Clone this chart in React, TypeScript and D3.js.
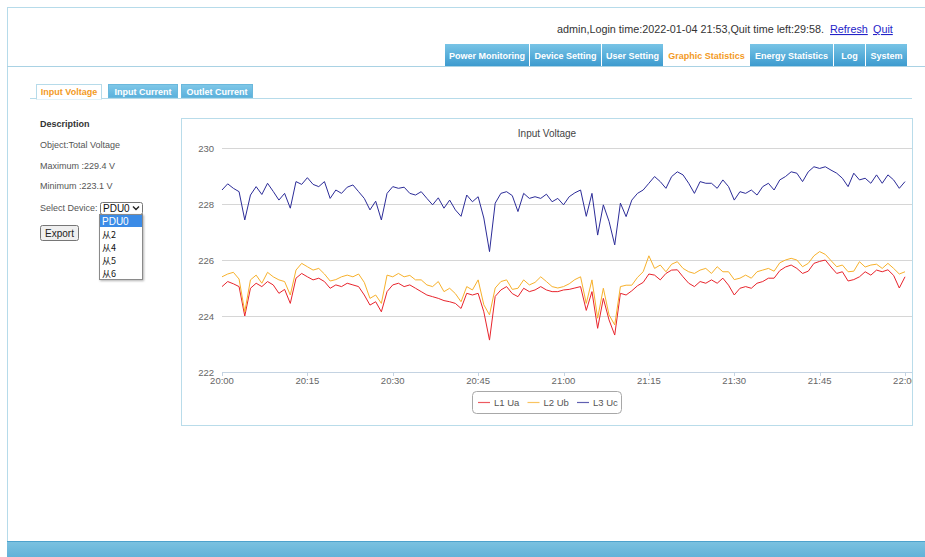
import React, { useEffect } from "react";
import * as d3 from "d3";

// series readings, one per minute from 20:00 to 22:00
const ua = [
  225.05, 225.23, 225.15, 225.05, 224.0, 224.99, 225.17, 225.05, 225.23, 225.11,
  224.81, 224.95, 224.45, 225.35, 225.52, 225.4, 225.29, 225.35, 225.23, 224.99,
  225.11, 225.05, 225.17, 225.11, 225.05, 224.75, 224.39, 224.51, 224.15, 224.87,
  225.11, 225.17, 225.05, 225.11, 224.99, 224.87, 224.75, 224.69, 224.63, 224.55,
  224.51, 224.45, 224.27, 224.81, 224.75, 224.81, 224.15, 223.14, 224.7, 224.93,
  225.05, 224.8, 224.69, 224.99, 224.87, 224.93, 225.05, 224.93, 224.87, 224.87,
  224.93, 224.95, 225.0, 225.05, 224.2, 224.87, 223.56, 224.63, 223.86, 223.32,
  224.81, 224.75, 224.9, 225.08, 225.2, 225.5, 225.46, 225.29, 225.52, 225.64,
  225.65, 225.4, 225.17, 225.05, 225.23, 225.17, 225.29, 225.17, 225.35, 225.1,
  224.75, 224.99, 225.05, 224.99, 225.17, 225.23, 225.35, 225.35, 225.62, 225.75,
  225.82, 225.7, 225.52, 225.6, 225.88, 225.95, 226.0, 225.75, 225.52, 225.58,
  225.25, 225.3, 225.4, 225.58, 225.46, 225.64, 225.58, 225.65, 225.45, 225.0,
  225.4,
];
const ub = [
  225.4, 225.5, 225.56, 225.32, 224.15, 225.29, 225.46, 225.17, 225.56, 225.4,
  225.29, 225.23, 224.75, 225.64, 225.88, 225.76, 225.64, 225.7, 225.5, 225.25,
  225.3, 225.4, 225.46, 225.4, 225.5, 225.2, 224.63, 224.75, 224.45, 225.46,
  225.4, 225.52, 225.4, 225.45, 225.29, 225.29, 225.11, 225.05, 225.23, 224.87,
  224.99, 224.8, 224.51, 225.05, 224.93, 225.29, 224.4, 224.04, 225.0, 225.23,
  225.29, 224.95, 224.99, 225.29, 225.11, 225.2, 225.4, 225.23, 225.05, 225.0,
  225.05, 225.15, 225.3, 225.4, 224.45, 225.29, 223.92, 224.99, 224.04, 223.68,
  225.05, 225.1, 225.1, 225.38, 225.58, 226.15, 225.7, 225.82, 225.58, 225.85,
  225.94, 225.7, 225.58, 225.52, 225.64, 225.7, 225.52, 225.76, 225.58, 225.58,
  225.3, 225.35, 225.46, 225.35, 225.58, 225.64, 225.7, 225.6, 225.9, 226.0,
  226.06, 226.0, 225.76, 225.88, 226.15, 226.3, 226.2, 225.98, 225.76, 225.82,
  225.58, 225.6, 225.94, 225.75, 225.82, 225.85, 225.7, 225.88, 225.7, 225.5,
  225.58,
];
const uc = [
  228.5, 228.72, 228.56, 228.44, 227.43, 228.32, 228.62, 228.34, 228.74, 228.45,
  228.14, 228.38, 227.85, 228.8, 228.7, 228.94, 228.7, 228.62, 228.8, 228.2,
  228.5, 228.38, 228.6, 228.68, 228.44, 228.2, 227.79, 228.1, 227.43, 228.38,
  228.62, 228.56, 228.6, 228.38, 228.32, 228.44, 228.2, 227.97, 228.22, 227.85,
  228.14, 227.79, 227.56, 228.32, 228.08, 228.26, 227.5, 226.3, 228.03, 228.38,
  228.44, 228.3, 227.73, 228.38, 228.2, 228.26, 228.2, 228.35, 228.08, 228.2,
  227.97, 228.26, 228.4, 228.5, 227.56, 228.38, 226.89, 227.97, 227.38, 226.54,
  228.03, 227.55, 228.14, 228.38, 228.5, 228.74, 228.98, 228.8, 228.56, 228.98,
  229.15, 229.04, 228.74, 228.38, 228.8, 228.74, 228.74, 228.56, 228.86, 228.62,
  228.14, 228.44, 228.38, 228.5, 228.32, 228.62, 228.74, 228.5, 228.86, 228.98,
  229.15, 229.1, 228.8, 229.15, 229.33, 229.27, 229.33, 229.21, 229.1, 228.92,
  228.62, 229.1, 228.86, 228.92, 228.74, 229.04, 228.74, 229.04, 228.86, 228.56,
  228.8,
];

const seriesNames = ["L1 Ua", "L2 Ub", "L3 Uc"];
const seriesColors = ["#e8242c", "#f7b12c", "#2c2c98"];
const yTicks = [222, 224, 226, 228, 230];
const xTickLabels = ["20:00", "20:15", "20:30", "20:45", "21:00", "21:15", "21:30", "21:45", "22:00"];

const navTabs = ["Power Monitoring", "Device Setting", "User Setting", "Graphic Statistics", "Energy Statistics", "Log", "System"];
const activeNav = 3;
const subTabs = ["Input Voltage", "Input Current", "Outlet Current"];
const descLines = ["Object:Total Voltage", "Maximum :229.4 V", "Minimum :223.1 V"];
const deviceOptions = ["PDU0", "从2", "从4", "从5", "从6"];

const W = 925;
const H = 557;
const FONT = "'Liberation Sans', Arial, sans-serif";
const navEdges = [445, 530, 602, 664, 750, 834, 866, 908];
const subTabEdges = [[36, 101], [108, 177], [181, 252]];

const start = new Date(2022, 0, 4, 20, 0);
const end = d3.timeMinute.offset(start, 120);

const App = () => {
  useEffect(() => {
    document.body.style.margin = "0";
  }, []);

  const x = d3.scaleTime().domain([start, end]).range([222, 905]);
  const y = d3.scaleLinear().domain([222, 230]).range([372, 148]);
  const xTicks = x.ticks(d3.timeMinute.every(15));
  const fmt = d3.timeFormat("%H:%M");

  const line = d3
    .line<number>()
    .x((d, i) => x(d3.timeMinute.offset(start, i)))
    .y((d) => y(d));
  const series = [ua, ub, uc];

  return (
    <svg width={W} height={H} style={{ display: "block", fontFamily: FONT }}>
      <defs>
        <linearGradient id="navg" x1="0" y1="0" x2="0" y2="1">
          <stop offset="0" stopColor="#78c4e6" />
          <stop offset="1" stopColor="#3d9bcf" />
        </linearGradient>
        <linearGradient id="subg" x1="0" y1="0" x2="0" y2="1">
          <stop offset="0" stopColor="#80c8e8" />
          <stop offset="1" stopColor="#5ab0dc" />
        </linearGradient>
        <linearGradient id="botg" x1="0" y1="0" x2="0" y2="1">
          <stop offset="0" stopColor="#7cc2e0" />
          <stop offset="1" stopColor="#62b2d8" />
        </linearGradient>
        <clipPath id="boxclip">
          <rect x={182} y={119} width={730} height={306} />
        </clipPath>
        <filter id="shadow" x="-20%" y="-20%" width="150%" height="150%">
          <feDropShadow dx="1" dy="1" stdDeviation="1.2" floodColor="#000" floodOpacity="0.3" />
        </filter>
      </defs>

      <rect width={W} height={H} fill="#fff" />
      {/* page frame */}
      <line x1={7.5} y1={7} x2={7.5} y2={541} stroke="#b6dbea" />
      <line x1={7} y1={7.5} x2={W} y2={7.5} stroke="#b6dbea" />

      {/* header */}
      <text x={557} y={33} fontSize={10.8} fill="#333">
        admin,Login time:2022-01-04 21:53,Quit time left:29:58.
      </text>
      <text x={830} y={33} fontSize={10.8} fill="#2323c8" textDecoration="underline">Refresh</text>
      <text x={873} y={33} fontSize={10.8} fill="#2323c8" textDecoration="underline">Quit</text>

      {navTabs.map((t, i) => {
        const x0 = navEdges[i];
        const x1 = navEdges[i + 1];
        const active = i === activeNav;
        return (
          <g key={t}>
            <rect x={x0} y={44} width={x1 - x0 - 1} height={22} fill={active ? "#fff" : "url(#navg)"} />
            <text
              x={(x0 + x1 - 1) / 2}
              y={58.5}
              textAnchor="middle"
              fontSize={9}
              fontWeight="bold"
              fill={active ? "#f39a1e" : "#fff"}
            >
              {t}
            </text>
          </g>
        );
      })}
      <line x1={7} y1={66.5} x2={W} y2={66.5} stroke="#a9d2e4" />

      {/* sub tabs */}
      <line x1={30} y1={98.5} x2={912} y2={98.5} stroke="#b6dbea" />
      {subTabs.map((t, i) => {
        const [x0, x1] = subTabEdges[i];
        const active = i === 0;
        return (
          <g key={t}>
            <rect
              x={x0 + 0.5}
              y={84.5}
              width={x1 - x0}
              height={active ? 14.5 : 13}
              fill={active ? "#fff" : "url(#subg)"}
              stroke={active ? "#b6dbea" : "#6ab8dc"}
            />
            {active && <line x1={x0 + 1} y1={98.5} x2={x1} y2={98.5} stroke="#fff" strokeWidth={1.5} />}
            <text x={(x0 + x1) / 2 + 0.5} y={95} textAnchor="middle" fontSize={9} fontWeight="bold" fill={active ? "#f39a1e" : "#fff"}>
              {t}
            </text>
          </g>
        );
      })}

      {/* description panel */}
      <text x={40} y={127} fontSize={9} fontWeight="bold" fill="#333">Description</text>
      {descLines.map((d, i) => (
        <text key={d} x={40} y={148 + i * 20.7} fontSize={9} fill="#555">{d}</text>
      ))}
      <text x={40} y={211} fontSize={9} fill="#555">Select Device:</text>
      <rect x={100.5} y={202.5} width={42} height={12} rx={2} fill="#fff" stroke="#767676" />
      <text x={103} y={212} fontSize={10} fill="#111">{deviceOptions[0]}</text>
      <path d="M133,206.5 L136,209.5 L139,206.5" fill="none" stroke="#222" strokeWidth={1.4} />

      <rect x={40.5} y={225.5} width={38} height={15} rx={2} fill="#efefef" stroke="#767676" />
      <text x={59.5} y={236.5} textAnchor="middle" fontSize={10} fill="#222">Export</text>

      <g filter="url(#shadow)">
        <rect x={99.5} y={214.5} width={43} height={65} fill="#fff" stroke="#8a8a8a" />
      </g>
      <rect x={100} y={215} width={42} height={12} fill="#3b8be6" />
      {deviceOptions.map((o, i) => (
        <text
          key={o}
          x={102}
          y={225 + i * 13}
          fontSize={i === 0 ? 10 : 9}
          fill={i === 0 ? "#fff" : "#111"}
          fontFamily={i === 0 ? FONT : "'Noto Sans CJK SC', " + FONT}
        >
          {o}
        </text>
      ))}

      {/* chart box */}
      <rect x={181.5} y={118.5} width={731} height={307} fill="#fff" stroke="#b9dcea" />
      <text x={547} y={137} textAnchor="middle" fontSize={10} fill="#444">Input Voltage</text>

      <g clipPath="url(#boxclip)">
        {yTicks.slice(1).map((t) => (
          <line key={t} x1={222} x2={912} y1={Math.round(y(t)) + 0.5} y2={Math.round(y(t)) + 0.5} stroke="#d6d6d6" />
        ))}
        <line x1={222} x2={912} y1={372.5} y2={372.5} stroke="#c4d3e2" />
        {xTicks.map((t, i) => (
          <g key={i}>
            <line x1={Math.round(x(t)) + 0.5} x2={Math.round(x(t)) + 0.5} y1={372} y2={376} stroke="#c4d3e2" />
            <text x={x(t)} y={384} textAnchor="middle" fontSize={9.5} fill="#666">
              {xTickLabels[i] ?? fmt(t)}
            </text>
          </g>
        ))}
        {series.map((s, i) => (
          <path key={seriesNames[i]} d={line(s) ?? ""} fill="none" stroke={seriesColors[i]} strokeWidth={1} strokeLinejoin="round" />
        ))}
      </g>
      {yTicks.map((t) => (
        <text key={t} x={214} y={y(t) + 3.5} textAnchor="end" fontSize={9.5} fill="#666">{t}</text>
      ))}

      {/* legend */}
      <rect x={472.5} y={391.5} width={149} height={22} rx={4} fill="#fff" stroke="#a8a8a8" />
      {seriesNames.map((n, i) => {
        const lx = 478 + i * 49.5;
        return (
          <g key={n}>
            <line x1={lx} x2={lx + 12} y1={402.5} y2={402.5} stroke={seriesColors[i]} strokeWidth={1.2} opacity={0.75} />
            <text x={lx + 16} y={406} fontSize={9.5} fill="#555">{n}</text>
          </g>
        );
      })}

      {/* footer bar */}
      <rect x={7} y={541} width={W - 7} height={16} fill="url(#botg)" />
      <line x1={7} y1={541.5} x2={W} y2={541.5} stroke="#4ea2cc" />
    </svg>
  );
};

export default App;
